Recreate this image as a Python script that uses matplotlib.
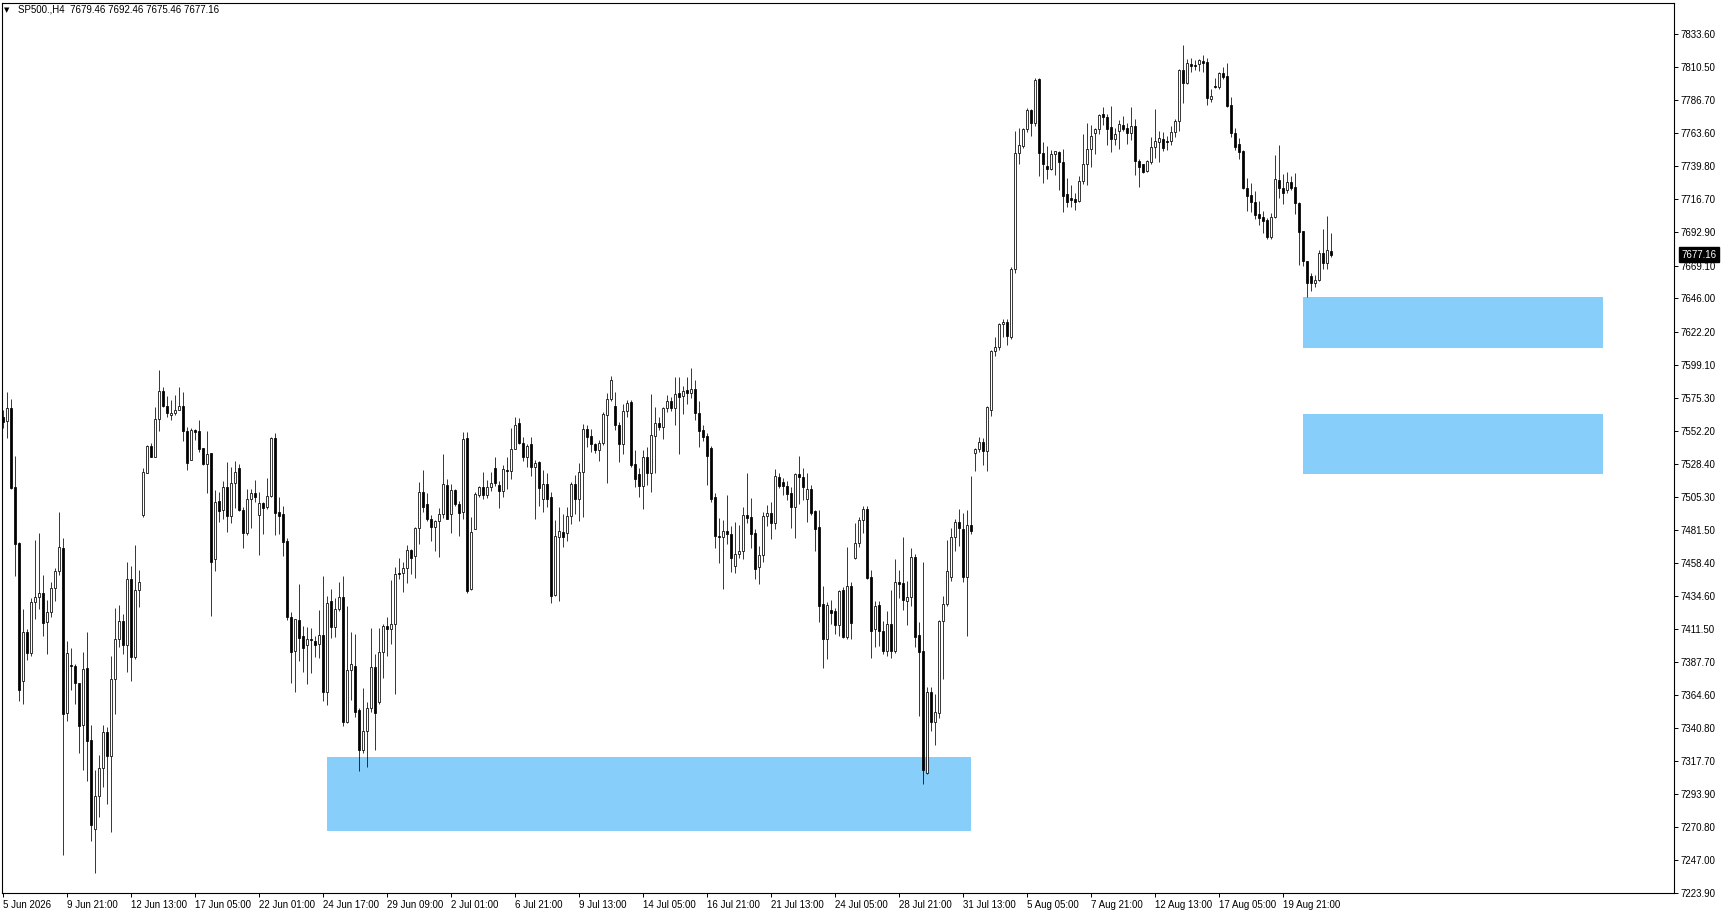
import matplotlib
matplotlib.use("Agg")
import matplotlib.pyplot as plt
import matplotlib.transforms as mtransforms
from matplotlib.patches import Rectangle

plt.rcParams['font.family'] = ["Liberation Sans", "DejaVu Sans"]

symbol = "SP500.,H4"
last_ohlc = [7679.46, 7692.46, 7675.46, 7677.16]

opens = [
    7562.0, 7559.0, 7568.0, 7511.8, 7472.3, 7374.0, 7409.1, 7394.4, 7430.1, 7434.2,
    7436.5, 7415.9, 7423.0, 7440.1, 7452.4, 7468.5, 7351.3, 7385.6, 7384.7, 7372.8,
    7342.8, 7383.3, 7332.3, 7268.9, 7292.6, 7312.2, 7337.8, 7320.7, 7375.4, 7404.3,
    7416.6, 7399.6, 7446.5, 7391.1, 7438.9, 7492.2, 7522.3, 7541.0, 7533.6, 7560.1,
    7580.0, 7569.9, 7563.0, 7564.4, 7567.0, 7569.4, 7551.9, 7531.5, 7552.3, 7551.9,
    7539.5, 7528.4, 7536.0, 7461.2, 7501.9, 7495.7, 7511.8, 7491.7, 7515.2, 7525.4,
    7495.8, 7479.7, 7503.6, 7507.6, 7492.0, 7500.5, 7497.7, 7505.5, 7546.7, 7494.3,
    7492.7, 7473.5, 7419.5, 7395.8, 7417.6, 7406.2, 7399.6, 7404.1, 7402.5, 7400.3,
    7406.7, 7366.7, 7430.9, 7412.9, 7425.2, 7433.7, 7345.4, 7381.9, 7384.9, 7353.7,
    7325.5, 7339.0, 7354.9, 7384.0, 7359.6, 7394.6, 7413.1, 7411.0, 7414.5, 7451.2,
    7451.2, 7454.6, 7467.1, 7462.8, 7483.0, 7508.3, 7499.8, 7489.4, 7483.9, 7487.9,
    7492.7, 7513.3, 7493.2, 7509.7, 7499.8, 7494.6, 7546.7, 7439.4, 7482.5, 7506.6,
    7511.8, 7506.2, 7511.8, 7525.6, 7513.7, 7509.0, 7524.2, 7523.7, 7539.3, 7557.3,
    7543.1, 7533.2, 7542.6, 7526.1, 7529.8, 7503.6, 7514.2, 7504.7, 7435.6, 7476.8,
    7479.9, 7479.2, 7491.5, 7514.2, 7503.3, 7522.5, 7553.0, 7548.3, 7542.4, 7538.1,
    7543.3, 7563.2, 7574.4, 7569.4, 7555.9, 7542.4, 7565.8, 7572.5, 7528.4, 7521.3,
    7513.0, 7533.2, 7522.3, 7548.3, 7557.3, 7554.5, 7568.4, 7572.9, 7568.4, 7578.9,
    7576.5, 7580.8, 7578.9, 7581.5, 7565.0, 7552.6, 7548.3, 7539.8, 7505.0, 7477.3,
    7476.6, 7480.8, 7478.7, 7456.0, 7464.5, 7466.7, 7492.2, 7490.8, 7479.4, 7455.3,
    7463.8, 7491.5, 7493.6, 7486.5, 7519.2, 7515.7, 7512.8, 7507.9, 7497.9, 7521.3,
    7519.2, 7503.6, 7510.7, 7495.1, 7483.7, 7429.0, 7404.2, 7424.7, 7424.0, 7414.1,
    7439.0, 7405.6, 7441.8, 7461.7, 7472.3, 7488.7, 7496.5, 7448.2, 7411.2, 7428.3,
    7409.8, 7395.6, 7414.8, 7395.6, 7444.6, 7443.9, 7431.1, 7434.0, 7462.4, 7407.0,
    7395.6, 7309.0, 7366.5, 7345.2, 7351.6, 7416.9, 7429.0, 7448.2, 7476.6, 7487.3,
    7482.3, 7448.2, 7485.1, 7536.3, 7539.1, 7544.1, 7537.7, 7566.8, 7608.7, 7611.5,
    7627.9, 7629.3, 7618.6, 7666.9, 7749.3, 7754.3, 7766.4, 7779.9, 7770.6, 7801.9,
    7749.3, 7740.1, 7738.0, 7748.6, 7750.0, 7742.9, 7720.2, 7717.4, 7716.7, 7715.2,
    7729.4, 7741.5, 7752.2, 7763.5, 7766.4, 7777.0, 7774.9, 7767.8, 7759.3, 7765.0,
    7769.2, 7767.1, 7763.5, 7768.5, 7743.6, 7741.5, 7736.5, 7742.9, 7753.6, 7757.1,
    7759.3, 7757.8, 7757.8, 7764.2, 7772.1, 7808.3, 7799.0, 7812.5, 7811.8, 7812.5,
    7814.7, 7814.0, 7787.7, 7796.9, 7796.2, 7806.1, 7804.0, 7783.4, 7763.5, 7755.7,
    7751.0, 7724.5, 7719.5, 7714.5, 7706.0, 7703.9, 7701.7, 7689.7, 7703.9, 7730.1,
    7724.5, 7723.0, 7728.7, 7725.2, 7713.8, 7693.9, 7672.6, 7662.0, 7657.0, 7659.1,
    7678.3, 7671.2, 7679.46,
]

highs = [
    7566.8, 7579.3, 7574.4, 7534.1, 7473.0, 7425.6, 7411.4, 7433.5, 7474.2, 7479.4,
    7449.6, 7431.8, 7444.6, 7454.5, 7494.1, 7475.6, 7402.7, 7397.7, 7386.3, 7373.0,
    7394.9, 7408.8, 7343.0, 7310.8, 7321.5, 7343.0, 7341.8, 7392.0, 7425.9, 7428.3,
    7421.6, 7458.6, 7456.0, 7470.9, 7452.9, 7525.6, 7541.7, 7543.3, 7568.9, 7595.2,
    7583.1, 7576.7, 7573.6, 7577.4, 7583.1, 7579.6, 7554.9, 7553.8, 7553.5, 7559.7,
    7540.0, 7552.1, 7536.5, 7509.9, 7508.5, 7516.3, 7529.8, 7526.1, 7530.6, 7528.2,
    7497.9, 7510.7, 7510.7, 7517.1, 7508.5, 7501.7, 7518.5, 7547.9, 7550.5, 7504.8,
    7498.6, 7475.9, 7423.3, 7418.6, 7443.2, 7413.3, 7412.4, 7411.9, 7406.0, 7424.7,
    7448.9, 7434.7, 7439.4, 7433.0, 7444.6, 7448.9, 7427.6, 7409.1, 7407.7, 7355.1,
    7369.3, 7359.4, 7411.9, 7393.5, 7411.9, 7414.8, 7419.7, 7446.0, 7455.0, 7461.7,
    7458.6, 7470.7, 7468.3, 7483.7, 7515.6, 7523.9, 7507.8, 7492.4, 7488.7, 7497.2,
    7535.5, 7517.8, 7514.2, 7510.9, 7501.9, 7551.2, 7551.2, 7490.5, 7508.5, 7513.0,
    7522.5, 7517.1, 7522.5, 7533.2, 7516.1, 7527.9, 7533.2, 7553.8, 7561.8, 7561.1,
    7547.4, 7542.9, 7547.4, 7531.3, 7530.8, 7524.2, 7521.8, 7508.5, 7488.6, 7498.1,
    7493.1, 7497.9, 7515.6, 7520.4, 7528.9, 7556.6, 7555.9, 7553.0, 7543.6, 7545.5,
    7565.6, 7578.9, 7590.9, 7579.3, 7558.3, 7571.3, 7573.6, 7574.1, 7538.4, 7525.8,
    7538.4, 7540.5, 7578.4, 7568.9, 7561.8, 7569.1, 7577.2, 7576.3, 7590.0, 7590.0,
    7583.6, 7590.2, 7596.4, 7588.0, 7573.0, 7556.2, 7550.5, 7541.2, 7507.9, 7490.1,
    7488.7, 7506.4, 7484.4, 7487.3, 7485.1, 7497.9, 7522.1, 7504.3, 7482.3, 7470.2,
    7494.4, 7499.3, 7501.5, 7524.9, 7522.1, 7518.5, 7516.4, 7512.1, 7522.1, 7534.1,
    7525.6, 7522.1, 7513.5, 7495.8, 7495.8, 7441.8, 7430.4, 7431.8, 7426.2, 7439.0,
    7441.1, 7469.5, 7444.6, 7486.5, 7490.8, 7498.6, 7498.6, 7453.2, 7431.1, 7431.1,
    7416.9, 7424.0, 7439.0, 7461.0, 7453.2, 7476.6, 7445.3, 7468.8, 7464.5, 7416.2,
    7458.8, 7370.1, 7370.1, 7365.1, 7417.6, 7434.7, 7474.5, 7483.0, 7489.4, 7496.5,
    7493.6, 7495.8, 7519.9, 7539.8, 7547.6, 7546.9, 7569.5, 7609.4, 7618.6, 7628.6,
    7631.4, 7631.4, 7668.4, 7765.0, 7767.1, 7767.1, 7781.3, 7780.6, 7802.6, 7802.3,
    7757.1, 7754.3, 7751.5, 7751.0, 7750.7, 7752.2, 7731.6, 7726.6, 7720.9, 7733.0,
    7762.8, 7770.6, 7769.2, 7767.1, 7777.0, 7782.0, 7777.0, 7782.7, 7767.1, 7772.8,
    7775.6, 7770.6, 7782.0, 7773.5, 7745.1, 7741.8, 7744.4, 7760.7, 7780.6, 7765.0,
    7764.2, 7761.4, 7768.5, 7773.5, 7809.0, 7826.0, 7816.1, 7816.8, 7815.4, 7816.1,
    7818.9, 7816.8, 7794.8, 7802.6, 7806.9, 7810.4, 7813.3, 7789.1, 7767.1, 7760.0,
    7751.5, 7731.6, 7728.0, 7722.3, 7715.2, 7708.1, 7703.2, 7706.7, 7747.9, 7755.0,
    7734.4, 7735.8, 7733.0, 7735.1, 7714.2, 7694.2, 7672.9, 7664.1, 7662.7, 7680.4,
    7695.3, 7704.6, 7692.46,
]

lows = [
    7554.2, 7547.1, 7510.9, 7449.1, 7360.3, 7358.2, 7388.9, 7392.3, 7418.5, 7425.6,
    7406.5, 7393.7, 7419.5, 7431.3, 7449.6, 7250.9, 7346.1, 7367.9, 7358.2, 7323.3,
    7310.8, 7303.5, 7260.6, 7237.6, 7277.9, 7298.7, 7287.1, 7267.2, 7351.1, 7398.7,
    7393.7, 7380.9, 7374.5, 7389.9, 7427.1, 7491.0, 7521.8, 7533.2, 7533.2, 7552.1,
    7569.1, 7562.0, 7559.7, 7563.2, 7566.8, 7545.0, 7524.2, 7531.3, 7545.5, 7537.2,
    7527.5, 7508.1, 7420.4, 7452.6, 7487.2, 7489.6, 7480.1, 7486.8, 7496.9, 7495.0,
    7469.0, 7478.0, 7483.2, 7501.7, 7464.0, 7478.9, 7496.7, 7505.2, 7478.2, 7478.9,
    7463.3, 7417.6, 7373.1, 7366.7, 7388.2, 7380.9, 7372.4, 7379.7, 7391.3, 7390.4,
    7360.3, 7357.0, 7405.1, 7405.8, 7424.2, 7342.5, 7344.7, 7360.8, 7348.5, 7310.6,
    7322.9, 7313.4, 7352.5, 7325.5, 7358.2, 7376.6, 7392.3, 7400.8, 7365.3, 7447.0,
    7437.7, 7444.1, 7450.5, 7447.7, 7471.8, 7494.6, 7488.2, 7474.0, 7466.9, 7462.6,
    7489.8, 7489.1, 7479.7, 7498.4, 7477.5, 7489.1, 7436.5, 7438.9, 7482.0, 7504.7,
    7503.3, 7504.0, 7509.2, 7512.8, 7497.4, 7505.2, 7510.9, 7518.0, 7538.8, 7542.6,
    7530.8, 7526.3, 7519.9, 7489.6, 7498.8, 7494.1, 7498.1, 7429.4, 7434.9, 7431.1,
    7469.2, 7473.7, 7486.0, 7492.7, 7488.2, 7491.0, 7540.3, 7536.9, 7536.5, 7530.5,
    7542.2, 7515.2, 7573.4, 7552.8, 7530.1, 7535.3, 7561.6, 7526.5, 7512.1, 7505.0,
    7496.7, 7513.7, 7508.8, 7521.8, 7552.6, 7546.4, 7565.4, 7566.3, 7556.4, 7535.5,
    7564.2, 7571.3, 7575.5, 7560.0, 7540.5, 7544.8, 7513.5, 7501.5, 7468.8, 7458.1,
    7439.7, 7471.6, 7451.7, 7451.0, 7461.7, 7461.0, 7486.5, 7468.8, 7446.8, 7443.2,
    7458.8, 7484.4, 7475.2, 7482.3, 7511.4, 7506.4, 7502.9, 7483.0, 7475.9, 7500.0,
    7502.9, 7487.3, 7492.2, 7466.7, 7416.2, 7383.5, 7390.0, 7414.8, 7407.7, 7406.3,
    7404.9, 7404.2, 7404.2, 7461.0, 7469.5, 7479.4, 7447.0, 7390.7, 7398.5, 7399.2,
    7393.5, 7392.1, 7390.7, 7394.2, 7433.3, 7424.7, 7414.1, 7427.6, 7398.5, 7349.5,
    7301.1, 7308.5, 7338.8, 7328.9, 7348.0, 7375.7, 7427.6, 7445.3, 7466.7, 7470.2,
    7444.6, 7406.3, 7478.7, 7523.5, 7537.0, 7527.7, 7523.5, 7562.5, 7605.1, 7609.4,
    7618.6, 7612.9, 7617.2, 7664.1, 7741.5, 7752.9, 7764.2, 7761.4, 7768.5, 7733.0,
    7728.0, 7730.9, 7737.2, 7733.7, 7723.0, 7707.4, 7711.0, 7711.0, 7708.8, 7714.5,
    7727.3, 7726.6, 7739.4, 7748.6, 7762.8, 7769.2, 7755.0, 7750.0, 7755.0, 7752.2,
    7765.0, 7755.7, 7758.6, 7733.7, 7725.2, 7735.3, 7735.8, 7741.5, 7745.8, 7742.9,
    7750.7, 7751.5, 7755.0, 7760.7, 7765.0, 7784.8, 7798.5, 7806.9, 7808.3, 7807.6,
    7806.9, 7783.4, 7785.5, 7795.5, 7794.8, 7801.9, 7782.0, 7760.7, 7751.5, 7745.1,
    7723.8, 7708.1, 7707.4, 7702.4, 7698.2, 7692.5, 7688.2, 7688.2, 7703.2, 7717.4,
    7713.1, 7720.9, 7723.0, 7706.0, 7669.8, 7669.1, 7647.0, 7651.3, 7654.1, 7658.4,
    7666.9, 7666.9, 7675.46,
]

closes = [
    7558.5, 7568.0, 7511.6, 7471.3, 7368.1, 7409.1, 7394.4, 7430.1, 7433.7, 7436.5,
    7415.2, 7423.0, 7440.1, 7452.4, 7469.2, 7350.6, 7393.9, 7384.7, 7372.6, 7342.1,
    7382.5, 7331.4, 7271.7, 7292.6, 7312.2, 7337.8, 7320.7, 7375.4, 7403.9, 7416.6,
    7399.6, 7446.5, 7391.1, 7438.9, 7444.4, 7522.5, 7541.0, 7533.6, 7560.1, 7580.0,
    7569.9, 7564.4, 7564.6, 7566.5, 7569.4, 7552.1, 7529.4, 7552.3, 7550.9, 7539.3,
    7528.4, 7535.3, 7458.6, 7501.2, 7494.8, 7511.8, 7491.7, 7514.7, 7522.8, 7495.8,
    7479.7, 7503.6, 7507.6, 7505.2, 7500.5, 7496.9, 7505.5, 7546.7, 7493.9, 7491.7,
    7473.3, 7420.0, 7395.1, 7418.1, 7405.1, 7397.5, 7403.9, 7403.2, 7400.1, 7406.7,
    7366.7, 7429.5, 7412.9, 7425.2, 7433.7, 7345.4, 7381.9, 7386.1, 7352.5, 7325.5,
    7338.5, 7354.9, 7384.0, 7351.3, 7394.6, 7413.1, 7411.0, 7414.5, 7450.1, 7450.1,
    7454.6, 7467.1, 7461.9, 7483.0, 7508.3, 7498.1, 7489.6, 7483.9, 7487.9, 7492.7,
    7514.0, 7489.6, 7509.7, 7499.8, 7493.9, 7545.9, 7438.4, 7479.9, 7507.1, 7511.8,
    7506.6, 7511.8, 7514.9, 7514.9, 7509.0, 7524.6, 7523.2, 7538.8, 7555.9, 7543.1,
    7533.2, 7541.4, 7526.1, 7528.9, 7511.6, 7514.0, 7503.6, 7434.9, 7477.3, 7480.6,
    7476.6, 7491.5, 7514.2, 7503.3, 7522.5, 7553.0, 7547.4, 7542.4, 7538.1, 7543.3,
    7563.7, 7574.4, 7587.9, 7555.9, 7542.4, 7565.8, 7571.8, 7527.5, 7518.0, 7513.0,
    7533.2, 7522.3, 7548.8, 7557.3, 7554.5, 7568.0, 7572.9, 7568.2, 7578.1, 7576.3,
    7580.0, 7578.9, 7581.5, 7565.0, 7552.0, 7547.6, 7534.1, 7503.6, 7477.3, 7476.6,
    7480.8, 7478.7, 7461.7, 7464.5, 7466.7, 7492.2, 7490.1, 7478.7, 7453.9, 7463.8,
    7491.5, 7493.6, 7486.5, 7519.9, 7512.8, 7512.8, 7507.1, 7497.9, 7521.3, 7519.2,
    7512.1, 7510.7, 7493.6, 7482.3, 7427.6, 7404.2, 7428.3, 7422.6, 7414.1, 7438.2,
    7405.6, 7441.8, 7415.5, 7472.3, 7488.7, 7496.5, 7447.5, 7409.8, 7427.6, 7409.8,
    7395.6, 7414.8, 7395.6, 7444.6, 7443.2, 7431.8, 7434.0, 7462.4, 7405.6, 7394.9,
    7311.1, 7366.5, 7345.2, 7352.3, 7416.9, 7429.0, 7452.4, 7476.6, 7487.3, 7483.0,
    7448.2, 7485.1, 7480.8, 7539.1, 7544.1, 7537.7, 7568.9, 7608.7, 7611.5, 7627.9,
    7629.3, 7619.3, 7666.9, 7749.3, 7755.0, 7766.4, 7779.9, 7770.6, 7801.2, 7749.3,
    7741.5, 7738.0, 7748.6, 7750.7, 7742.9, 7718.8, 7714.5, 7715.9, 7714.5, 7729.4,
    7741.5, 7752.2, 7761.4, 7766.4, 7776.3, 7774.9, 7766.4, 7759.3, 7762.8, 7769.9,
    7766.4, 7763.5, 7768.5, 7743.6, 7739.4, 7735.8, 7743.6, 7753.6, 7757.8, 7760.0,
    7752.9, 7757.1, 7764.2, 7772.1, 7808.3, 7799.0, 7813.3, 7811.1, 7811.1, 7815.4,
    7813.3, 7788.4, 7789.8, 7796.2, 7806.1, 7803.3, 7782.7, 7763.5, 7753.6, 7750.0,
    7724.5, 7718.8, 7714.5, 7705.3, 7703.2, 7701.0, 7689.7, 7703.9, 7730.9, 7724.5,
    7720.9, 7728.7, 7724.5, 7713.8, 7693.2, 7672.6, 7657.0, 7657.0, 7659.1, 7678.3,
    7671.2, 7680.4, 7677.16,
]

date_labels = [
    "5 Jun 2026", "9 Jun 21:00", "12 Jun 13:00", "17 Jun 05:00", "22 Jun 01:00",
    "24 Jun 17:00", "29 Jun 09:00", "2 Jul 01:00", "6 Jul 21:00", "9 Jul 13:00",
    "14 Jul 05:00", "16 Jul 21:00", "21 Jul 13:00", "24 Jul 05:00", "28 Jul 21:00",
    "31 Jul 13:00", "5 Aug 05:00", "7 Aug 21:00", "12 Aug 13:00", "17 Aug 05:00",
    "19 Aug 21:00",
]
bars_per_label = 16

price_ticks = [
    7833.60, 7810.50, 7786.70, 7763.60, 7739.80, 7716.70, 7692.90, 7669.10, 7646.00,
    7622.20, 7599.10, 7575.30, 7552.20, 7528.40, 7505.30, 7481.50, 7458.40, 7434.60,
    7411.50, 7387.70, 7364.60, 7340.80, 7317.70, 7293.90, 7270.80, 7247.00, 7223.90,
]

# supply / demand zones: start bar, end bar, top price, bottom price
zone_start = [81, 325, 325]
zone_end = [242, 400, 400]
zone_top = [7320.3, 7647.3, 7564.1]
zone_bottom = [7267.7, 7610.8, 7521.2]
zone_color = "#87CEFA"

W, H = 1721, 915
fig = plt.figure(figsize=(W / 100, H / 100), dpi=100)
ax = fig.add_axes([2 / W, (H - 893) / H, (1674 - 2) / W, (893 - 3) / H])
ax.set_xlim(-0.325, 417.7)
ax.set_ylim(7223.7, 7855.9)

n = min(len(opens), len(highs), len(lows), len(closes))
xs = list(range(n))

for s, e, t, b in zip(zone_start, zone_end, zone_top, zone_bottom):
    ax.add_patch(Rectangle((s, b), e - s, t - b, facecolor=zone_color,
                           edgecolor="none", zorder=1))

hi = [max(highs[i], opens[i], closes[i]) for i in xs]
lo = [min(lows[i], opens[i], closes[i]) for i in xs]
ax.vlines(xs, lo, hi, colors="black", linewidth=0.55, zorder=3)

bottoms = [min(opens[i], closes[i]) for i in xs]
heights = [abs(closes[i] - opens[i]) for i in xs]
faces = ["white" if closes[i] > opens[i] else "black" for i in xs]
ax.bar(xs, heights, bottom=bottoms, width=0.5, color=faces, edgecolor="black",
       linewidth=0.55, zorder=4)

for sp in ax.spines.values():
    sp.set_linewidth(0.8)
    sp.set_color("black")

ax.yaxis.tick_right()
ax.set_yticks(price_ticks)
ax.set_yticklabels([f"{v:.2f}" for v in price_ticks])
ax.tick_params(axis="y", direction="out", length=3, width=0.7, pad=2,
               labelsize=7, colors="black")

ax.set_xticks([bars_per_label * k for k in range(len(date_labels))])
ax.set_xticklabels(date_labels)
for lbl in ax.get_xticklabels():
    lbl.set_horizontalalignment("left")
ax.tick_params(axis="x", direction="out", length=3, width=0.7, pad=2,
               labelsize=7, colors="black")

# current price tag
trans = mtransforms.blended_transform_factory(ax.transAxes, ax.transData)
ax.text(1.0045, last_ohlc[3], f"{last_ohlc[3]:.2f}", transform=trans,
        ha="left", va="center", fontsize=7, color="white", clip_on=False,
        zorder=10,
        bbox=dict(boxstyle="square,pad=0.25", facecolor="black", edgecolor="black"))

# header
fig.text(4 / W, 1 - 10 / H, "\u25BC", fontsize=5, ha="left", va="center",
         family=["DejaVu Sans"])
fig.text(18 / W, 1 - 10 / H,
         f"{symbol}  " + " ".join(f"{v:.2f}" for v in last_ohlc),
         fontsize=7, ha="left", va="center", color="black")

fig.savefig("out.png", dpi=100, facecolor="white")
